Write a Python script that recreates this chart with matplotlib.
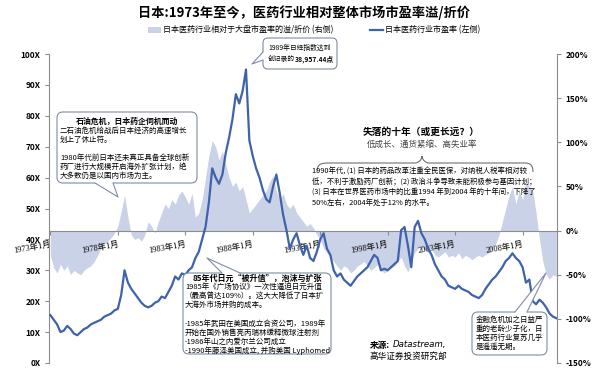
import numpy as np
import matplotlib
matplotlib.use("Agg")
import matplotlib.pyplot as plt
import matplotlib.transforms as mtransforms
from matplotlib.patches import FancyBboxPatch, Polygon, Patch, PathPatch
from matplotlib.lines import Line2D
from matplotlib.path import Path

plt.rcParams['font.family'] = ['Noto Sans CJK SC', 'DejaVu Sans']

# ---------------- data (quarterly readings, 1973Q1 .. 2010Q3) ----------------
start_year = 1973
pe_ratio = [
    15.5, 14, 12.5, 10,      # 1973
    10.5, 12, 11, 9.5,       # 1974
    9, 10, 11, 11.5,         # 1975
    12.5, 13, 13.5, 14,      # 1976
    15, 15.5, 16, 17,        # 1977
    17.5, 22, 30, 26,        # 1978
    24, 22.5, 21, 19.5,      # 1979
    18.5, 18, 18.5, 19.5,    # 1980
    20, 21.5, 21, 23,        # 1981
    25, 28, 27, 29,          # 1982
    28.5, 30, 31, 34,        # 1983
    36, 40, 44, 52,          # 1984
    63, 60, 58, 61,          # 1985
    68, 73, 79, 87,          # 1986
    84, 88, 95, 72,          # 1987
    67, 63, 60, 56,          # 1988
    53, 52, 57, 61,          # 1989
    55, 48, 43, 37,          # 1990
    40, 42, 38, 35,          # 1991
    38, 34, 33, 36,          # 1992
    40, 42, 37, 35,          # 1993
    30, 28, 29, 27,          # 1994
    26, 25, 26.5, 28,        # 1995
    29, 30, 31, 33,          # 1996
    35, 34, 30, 30.5,        # 1997
    30, 31, 32, 33,          # 1998
    43, 44, 38, 31,          # 1999
    44, 46, 42, 40,          # 2000
    37, 35, 32, 30,          # 2001
    28, 27, 25, 24.5,        # 2002
    24, 25, 24, 23.5,        # 2003
    23, 22, 21.5, 21,        # 2004
    22, 24, 25.5, 27,        # 2005
    28, 29.5, 31, 33,        # 2006
    34, 35.5, 34, 33,        # 2007
    31, 26, 27, 20,          # 2008
    19, 20.5, 19.5, 18,      # 2009
    16, 15, 14.5,            # 2010
]
premium_pct = [
    -28, -42, -48, -38,      # 1973
    -45, -40, -50, -45,      # 1974
    -48, -50, -45, -42,      # 1975
    -40, -35, -28, -20,      # 1976
    -15, -12, -8, -3,        # 1977
    5, 22, 40, 15,           # 1978
    -5, -10, -8, -12,        # 1979
    -5, 10, 5, -3,           # 1980
    10, 20, 30, 25,          # 1981
    35, 30, 40, 45,          # 1982
    38, 30, 42, 15,          # 1983
    20, 35, 60, 85,          # 1984
    102, 95, 80, 90,         # 1985
    75, 60, 50, 55,          # 1986
    45, 50, 35, 20,          # 1987
    25, 30, 35, 40,          # 1988
    45, 55, 62, 45,          # 1989
    35, 42, 30, 25,          # 1990
    30, 20, 15, 10,          # 1991
    5, 8, 3, -5,             # 1992
    -10, -20, -25, -30,      # 1993
    -35, -40, -45, -40,      # 1994
    -42, -48, -45, -40,      # 1995
    -38, -35, -40, -45,      # 1996
    -42, -38, -45, -48,      # 1997
    -45, -42, -40, -35,      # 1998
    -30, -40, -47, -35,      # 1999
    -25, -20, -18, -22,      # 2000
    -25, -20, -28, -30,      # 2001
    -27, -24, -30, -28,      # 2002
    -30, -25, -32, -28,      # 2003
    -30, -33, -30, -28,      # 2004
    -30, -27, -25, -20,      # 2005
    -15, -5, 10, 25,         # 2006
    40, 50, 30, 45,          # 2007
    35, 55, 50, 45,          # 2008
    20, -10, -35, -50,       # 2009
    -55, -50, -52,           # 2010
]
tick_years = [1973, 1978, 1983, 1988, 1993, 1998, 2003, 2008]
tick_labels = [f"{y}年1月" for y in tick_years]
left_ticks = list(range(0, 101, 10))
right_ticks = list(range(-150, 201, 50))

title = "日本:1973年至今，医药行业相对整体市场市盈率溢/折价"
legend_area = "日本医药行业相对于大盘市盈率的溢/折价 (右侧)"
legend_line = "日本医药行业市盈率 (左侧)"

t = start_year + np.arange(len(pe_ratio)) / 4.0

# ---------------- figure ----------------
W, H = 600, 372
fig = plt.figure(figsize=(W / 100, H / 100), dpi=100)
PIX = mtransforms.Affine2D().scale(1, -1).translate(0, H)   # pixel coords, y from top

AREA_C = '#C9D2E6'
LINE_C = '#3F62AD'
AX_C = '#8C8C8C'

x0, x1, ytop, ybot = 49, 557, 54, 363
ax = fig.add_axes([x0 / W, 1 - ybot / H, (x1 - x0) / W, (ybot - ytop) / H])
ax.patch.set_alpha(0)
ax2 = ax.twinx()

# area on right scale
ax.fill_between(t, 0, premium_pct, color=AREA_C, lw=0, zorder=1)
ax.set_ylim(-150, 200)
ax.set_xlim(1972.9, 2010.55)
ax.yaxis.tick_right()
ax.set_yticks(right_ticks)
ax.set_yticklabels([f"{v}%" for v in right_ticks], fontsize=6, fontweight='bold')
ax.tick_params(axis='y', direction='out', length=3, color=AX_C, pad=3)
for s in ['left', 'top']:
    ax.spines[s].set_visible(False)
ax.spines['right'].set_color(AX_C)
ax.spines['bottom'].set_position(('data', 0))
ax.spines['bottom'].set_color(AX_C)
ax.set_xticks(tick_years)
ax.set_xticklabels(tick_labels, rotation=10, ha='right', va='top',
                   rotation_mode='anchor', fontsize=6,
                   family=['Liberation Serif', 'Noto Sans CJK SC'])
ax.tick_params(axis='x', direction='out', length=3, color=AX_C, pad=4)

# line on left scale
ax2.plot(t, pe_ratio, color=LINE_C, lw=1.6, zorder=3)
ax2.set_ylim(0, 100)
ax2.yaxis.set_ticks_position('left')
ax2.set_yticks(left_ticks)
ax2.set_yticklabels([f"{v}X" for v in left_ticks], fontsize=6, fontweight='bold')
ax2.tick_params(axis='y', direction='out', length=3, color=AX_C, pad=3)
for s in ['right', 'top', 'bottom']:
    ax2.spines[s].set_visible(False)
ax2.spines['left'].set_color(AX_C)

# ---------------- title & legend ----------------
fig.text(304, 13, title, transform=PIX, ha='center', va='center',
         fontsize=9.5, fontweight='bold')
handles = [Patch(facecolor=AREA_C, edgecolor='none'),
           Line2D([0], [0], color=LINE_C, lw=1.6)]
fig.legend(handles, [legend_area, legend_line], loc='center',
           bbox_to_anchor=(314 / W, 1 - 30 / H), ncol=2, frameon=False,
           fontsize=5.8, handlelength=1.6, handleheight=0.7,
           columnspacing=4.5, handletextpad=0.3)

# ---------------- callouts ----------------
EDGE = '#7F8CA6'


def callout(bx0, by0, bx1, by1, b1, b2, tip, r=6):
    box = FancyBboxPatch((bx0, H - by1), bx1 - bx0, by1 - by0,
                         boxstyle=f"round,pad=0,rounding_size={r}",
                         transform=None, facecolor='white', edgecolor=EDGE,
                         lw=0.8, zorder=10)
    fig.add_artist(box)
    cx, cy = (bx0 + bx1) / 2, (by0 + by1) / 2

    def inward(p):
        return (p[0] + np.sign(cx - p[0]) * 1.5 * (p[0] in (bx0, bx1)),
                p[1] + np.sign(cy - p[1]) * 1.5 * (p[1] in (by0, by1)))
    poly = Polygon([inward(b1), b1, tip, b2, inward(b2)], closed=True,
                   transform=PIX, facecolor='white', edgecolor='none', zorder=11)
    fig.add_artist(poly)
    ln = Line2D([b1[0], tip[0], b2[0]], [b1[1], tip[1], b2[1]],
                transform=PIX, color=EDGE, lw=0.8, zorder=12)
    fig.add_artist(ln)


def txt(x, y, s, size=5.4, **kw):
    fig.text(x, y, s, transform=PIX, fontsize=size, zorder=20, **kw)


# oil crisis box
callout(57, 112, 197, 183, (95, 183), (113, 183), (118, 197))
txt(127, 121, "石油危机，日本药企伺机而动", 5.7, ha='center', va='center', fontweight='bold')
for i, s in enumerate(["二石油危机给战后日本经济的高速增长",
                       "划上了休止符。", "",
                       "1980年代前日本还未真正具备全球创新",
                       "药厂进行大规模开启海外扩张计划，绝",
                       "大多数仍是以国内市场为主。"]):
    txt(60, 130.5 + i * 9, s, 5.4, ha='left', va='center')

# 1989 box
callout(263, 38, 337, 69, (263, 52), (263, 60), (252, 64), r=5)
txt(268, 48, "1989年日经指数达到", 4.9, ha='left', va='center')
txt(268, 59, "创记录的", 4.9, ha='left', va='center')
txt(268 + 4 * 6.6, 59, "38,957.44点", 4.9, ha='left', va='center', fontweight='bold')

# yen box
callout(183, 273, 331, 354, (222, 273), (240, 273), (207, 258))
txt(257, 278.5, "85年代日元“被升值”，泡沫与扩张", 5.8, ha='center', va='center', fontweight='bold')
for i, s in enumerate(["1985年《广场协议》一次性逼迫日元升值",
                       "（最高曾达109%）。这大大降低了日本扩",
                       "大海外市场并购的成本。", "",
                       "-1985年武田在美国成立合资公司，1989年",
                       "开始在国外销售亮丙瑞林缓释微球注射剂",
                       "-1986年山之内爱尔兰公司成立",
                       "-1990年藤泽美国成立, 并购美国 Lyphomed"]):
    txt(185, 287 + i * 9.1, s, 5.4, ha='left', va='center')

# financial crisis box
callout(472, 312, 547, 355, (515, 312), (527, 312), (546, 273))
for i, s in enumerate(["金融危机加之日益严", "重的老龄少子化，日",
                       "本医药行业复苏几乎", "是遥遥无期。"]):
    txt(476, 319.5 + i * 9, s, 5.4, ha='left', va='center')

# lost decade
txt(421, 132, "失落的十年（或更长远？）", 7, ha='center', va='center', fontweight='bold')
txt(422, 144, "低成长、通货紧缩、高失业率", 6.1, ha='center', va='center', color='#444444')
verts = [(317, 172), (317, 165), (320, 163), (328, 163),
         (415, 163), (418, 163), (422, 160), (422, 156),
         (422, 160), (426, 163), (429, 163),
         (525, 163), (530, 163), (533, 165), (533, 172)]
codes = [Path.MOVETO, Path.CURVE4, Path.CURVE4, Path.CURVE4,
         Path.LINETO, Path.CURVE4, Path.CURVE4, Path.CURVE4,
         Path.CURVE4, Path.CURVE4, Path.CURVE4,
         Path.LINETO, Path.CURVE4, Path.CURVE4, Path.CURVE4]
fig.add_artist(PathPatch(Path(verts, codes), transform=PIX, facecolor='none',
                         edgecolor='#707070', lw=0.8, zorder=9))
for i, s in enumerate(["1990年代, (1) 日本的药品改革注重全民医保，对纳税人税率相对较",
                       "低，不利于激励药厂创新；(2) 政治斗争导致未能积极参与基因计划；",
                       "(3) 日本在世界医药市场中的比重1994 年到2004 年的十年间，下降了",
                       "50%左右，2004年处于12% 的水平。"]):
    txt(312, 171.5 + i * 10.3, s, 5.3, ha='left', va='center')

# source
txt(370, 345, "来源:", 6.2, ha='left', va='center', fontweight='bold', style='italic')
txt(393, 345, "Datastream,", 6.2, ha='left', va='center', style='italic',
    family=['DejaVu Sans', 'Noto Sans CJK SC'])
txt(370, 356, "高华证券投资研究部", 6.2, ha='left', va='center', style='italic')

fig.savefig("out.png", dpi=100)
